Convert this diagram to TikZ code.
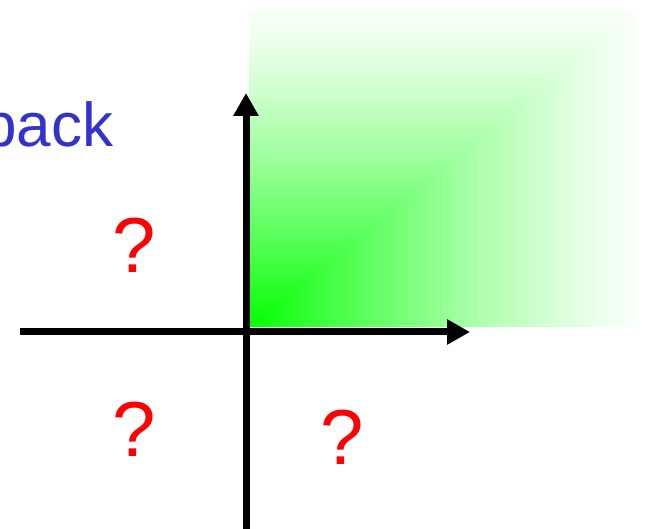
\documentclass[tikz,border=0pt]{standalone}
\usepackage{fontspec}
\setmainfont{Liberation Sans}
\usepackage{tikz}
\usetikzlibrary{arrows.meta}

\definecolor{titleblue}{RGB}{51,51,204}
\definecolor{qred}{RGB}{255,0,0}

\begin{document}
\begin{tikzpicture}[x=1pt,y=-1pt,
  axis/.style={line width=7pt,-{Triangle[length=23pt,width=24pt]}},
  qmark/.style={text=qred,inner sep=0pt,font=\fontsize{78}{80}\selectfont},
  title/.style={text=titleblue,inner sep=0pt,anchor=base west,font=\fontsize{62}{66}\selectfont}]
\useasboundingbox (0,0) rectangle (646,529);
\clip (0,0) rectangle (646,529);

% shaded quadrant
\foreach \i in {0,...,79}{
  \pgfmathsetmacro{\t}{1-\i/80}
  \pgfmathsetmacro{\p}{min(100,3+97*pow(1-\t,1.3))}
  \fill[green!\p!white] (249,327) rectangle ({249+\t*388},{327-\t*317});
}

% title
\node[title] (title) at (-18,147) {back};

% axes
\coordinate (xstart) at (20,332);
\coordinate (xend) at (470,332);
\coordinate (ystart) at (246,535);
\coordinate (yend) at (246,93);
\draw[axis] (xstart) -- (xend);
\draw[axis] (ystart) -- (yend);

% quadrants
\node[qmark] (q2) at (134,245) {?};
\node[qmark] (q3) at (134,429) {?};
\node[qmark] (q4) at (342,437) {?};
\end{tikzpicture}
\end{document}
